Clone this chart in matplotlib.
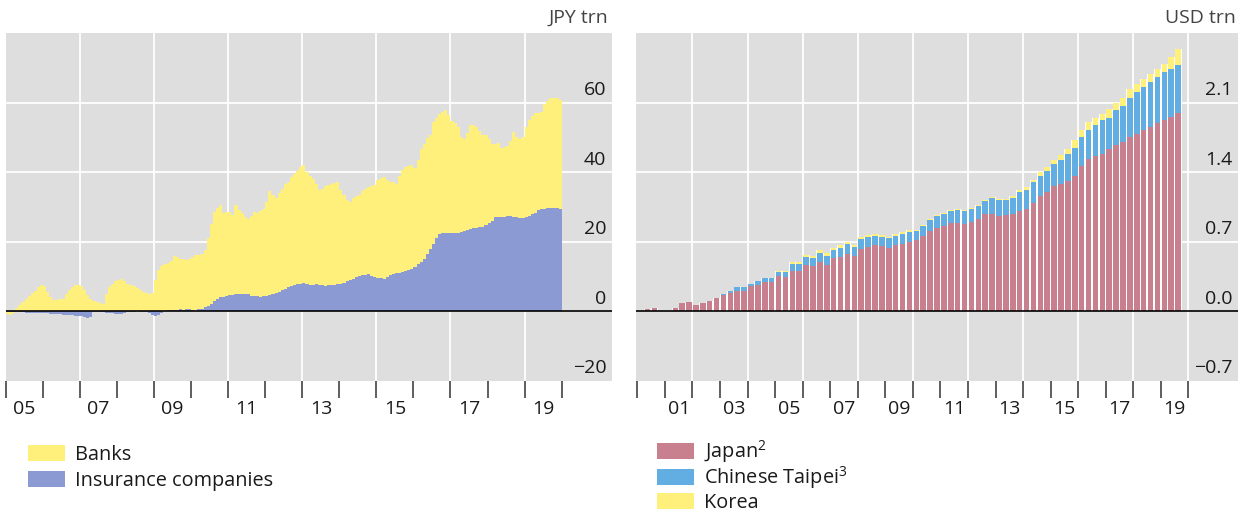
import numpy as np
import matplotlib
matplotlib.use('Agg')
import matplotlib.pyplot as plt
from matplotlib.patches import Rectangle

plt.rcParams['font.family'] = ['Open Sans', 'DejaVu Sans']
plt.rcParams['mathtext.default'] = 'regular'

# left panel: monthly, Jan 2005 - Dec 2019, JPY trn
left_start = 2005
banks = [
    -0.5, -0.8, -0.3, 0.9, 1.8, 2.8, 3.6, 4.4, 5.2, 6.0, 6.9, 7.5,
    7.2, 5.5, 4.2, 3.4, 3.3, 3.5, 3.7, 5.0, 6.2, 7.0, 7.6, 7.5,
    7.3, 6.2, 4.8, 3.6, 3.0, 2.7, 2.3, 2.0, 5.1, 7.0, 7.8, 8.6,
    9.0, 9.3, 8.6, 8.0, 7.6, 7.4, 6.6, 6.1, 5.6, 5.2, 5.0, 5.3,
    9.0, 11.8, 13.0, 13.4, 13.7, 14.2, 15.4, 15.1, 14.6, 14.5, 14.1, 14.4,
    15.3, 15.9, 15.7, 15.8, 16.4, 19.5, 22.8, 25.5, 26.3, 26.6, 24.1, 24.1,
    23.9, 23.0, 25.6, 24.1, 23.4, 22.3, 21.6, 23.0, 24.3, 24.1, 24.6, 25.2,
    27.1, 29.9, 28.6, 27.3, 28.4, 29.1, 30.0, 30.3, 31.1, 31.9, 32.5, 33.5,
    33.9, 32.3, 31.3, 30.4, 28.7, 27.2, 27.8, 28.6, 28.7, 29.1, 29.4, 29.4,
    27.0, 25.2, 23.4, 22.6, 23.3, 23.3, 23.3, 24.1, 24.6, 25.0, 25.7, 26.5,
    28.1, 28.8, 29.1, 27.9, 26.7, 26.5, 25.6, 27.7, 29.2, 29.9, 29.8, 29.8,
    28.6, 30.0, 32.4, 32.9, 33.2, 33.0, 35.0, 34.7, 34.5, 34.7, 35.2, 34.0,
    32.2, 31.8, 30.4, 27.1, 26.3, 27.8, 29.7, 29.7, 28.9, 27.6, 26.5, 26.0,
    24.3, 22.0, 21.2, 21.3, 20.0, 20.0, 20.1, 21.6, 24.3, 23.0, 22.8, 23.3,
    26.0, 27.6, 28.2, 28.6, 27.8, 27.9, 30.1, 30.9, 31.6, 31.7, 31.5, 31.3,
]
insurance = [
    -0.2, -0.3, -0.2, -0.2, -0.3, -0.3, -0.4, -0.4, -0.5, -0.5, -0.5, -0.6,
    -0.5, -0.6, -0.8, -0.8, -0.7, -0.8, -0.9, -1.0, -1.0, -1.1, -1.2, -1.3,
    -1.4, -1.7, -1.8, -1.5, -0.3, -0.2, -0.3, -0.2, -0.5, -0.4, -0.5, -0.8,
    -0.7, -0.8, -0.6, -0.2, -0.1, -0.1, 0.0, -0.1, -0.1, -0.2, -0.4, -1.0,
    -1.2, -0.9, -0.4, 0.2, 0.3, 0.4, 0.5, 0.5, 0.6, 0.5, 0.6, 0.6,
    0.4, 0.2, 0.6, 0.8, 1.2, 1.5, 2.2, 3.0, 3.5, 4.0, 4.2, 4.5,
    4.6, 4.8, 4.9, 4.9, 5.0, 4.9, 4.9, 4.5, 4.3, 4.3, 4.2, 4.3,
    4.4, 4.6, 4.9, 5.2, 5.6, 6.1, 6.5, 6.9, 7.4, 7.6, 7.9, 8.0,
    8.1, 7.9, 7.7, 7.6, 7.8, 7.6, 7.5, 7.4, 7.5, 7.5, 7.6, 7.8,
    8.0, 8.3, 8.6, 8.9, 9.3, 9.9, 10.2, 10.4, 10.6, 10.7, 10.3, 9.9,
    9.6, 9.5, 9.4, 9.9, 10.5, 10.7, 10.9, 11.1, 11.3, 11.6, 12.0, 12.3,
    12.7, 13.5, 14.3, 15.2, 16.5, 17.8, 19.5, 21.0, 22.3, 22.6, 22.6, 22.5,
    22.4, 22.4, 22.6, 22.9, 23.2, 23.5, 23.8, 24.0, 24.0, 24.2, 24.3, 24.8,
    25.3, 26.0, 27.0, 27.1, 27.0, 27.2, 27.3, 27.4, 27.2, 27.0, 26.8, 26.7,
    27.0, 27.4, 28.0, 28.4, 29.2, 29.3, 29.4, 29.6, 29.7, 29.6, 29.8, 29.5,
]

# right panel: quarterly, 2000 Q1 - 2019 Q3, USD trn
right_start = 2000
japan = [
    0.0, 0.02, 0.03, 0.0,   0.0, 0.03, 0.08, 0.09,   0.06, 0.08, 0.10, 0.13,
    0.16, 0.19, 0.21, 0.21,   0.26, 0.27, 0.30, 0.30,   0.36, 0.35, 0.41, 0.41,
    0.47, 0.46, 0.50, 0.47,   0.54, 0.55, 0.58, 0.56,   0.63, 0.65, 0.67, 0.66,
    0.64, 0.67, 0.68, 0.70,   0.72, 0.76, 0.81, 0.84,   0.86, 0.89, 0.89, 0.88,
    0.90, 0.93, 0.98, 0.98,   0.96, 0.97, 0.98, 1.01,   1.03, 1.09, 1.16, 1.20,
    1.26, 1.28, 1.31, 1.36,   1.46, 1.53, 1.56, 1.58,   1.63, 1.67, 1.70, 1.75,
    1.78, 1.82, 1.85, 1.89,   1.92, 1.96, 2.00,
]
taipei = [
    0.0, 0.0, 0.0, 0.0,   0.0, 0.0, 0.0, 0.0,   0.0, 0.0, 0.0, 0.0,
    0.01, 0.02, 0.04, 0.04,   0.02, 0.04, 0.04, 0.04,   0.04, 0.05, 0.07, 0.07,
    0.08, 0.08, 0.09, 0.09,   0.08, 0.09, 0.10, 0.09,   0.10, 0.10, 0.09, 0.09,
    0.10, 0.09, 0.10, 0.10,   0.09, 0.10, 0.11, 0.12,   0.12, 0.12, 0.13, 0.13,
    0.13, 0.13, 0.13, 0.16,   0.16, 0.15, 0.16, 0.19,   0.19, 0.21, 0.20, 0.21,
    0.22, 0.24, 0.27, 0.28,   0.29, 0.29, 0.31, 0.34,   0.32, 0.36, 0.37, 0.40,
    0.43, 0.44, 0.46, 0.47,   0.49, 0.48, 0.48,
]
korea = [
    0.0, 0.0, 0.0, 0.0,   0.0, 0.0, 0.0, 0.0,   0.0, 0.0, 0.0, 0.0,
    0.0, 0.0, 0.0, 0.0,   0.0, 0.0, 0.0, 0.0,   0.01, 0.01, 0.02, 0.02,
    0.02, 0.02, 0.03, 0.03,   0.02, 0.03, 0.02, 0.02,   0.02, 0.02, 0.02, 0.02,
    0.01, 0.02, 0.02, 0.02,   0.01, 0.01, 0.01, 0.01,   0.01, 0.01, 0.01, 0.01,
    0.01, 0.01, 0.01, 0.01,   0.01, 0.01, 0.02, 0.02,   0.03, 0.02, 0.04, 0.04,
    0.04, 0.05, 0.05, 0.08,   0.07, 0.08, 0.08, 0.07,   0.09, 0.07, 0.08, 0.09,
    0.08, 0.08, 0.08, 0.08,   0.08, 0.12, 0.16,
]

left_yticks = [-20, 0, 20, 40, 60]
left_ylabels = ['\u221220', '0', '20', '40', '60']
right_yticks = [-0.7, 0.0, 0.7, 1.4, 2.1]
right_ylabels = ['\u22120.7', '0.0', '0.7', '1.4', '2.1']

yellow = '#FFF07C'
blue_ins = '#8C9AD3'
pink = '#C8808F'
blue_tw = '#62AEE3'
bg = '#DEDEDE'
FS = 14


def stack_bars(ax, x, series, colors, slot, frac, gap_color):
    series = [np.asarray(s, dtype=float) for s in series]
    pos = np.zeros(len(x))
    neg = np.zeros(len(x))
    tot_pos = sum(np.clip(s, 0, None) for s in series)
    tot_neg = sum(np.clip(s, None, 0) for s in series)
    # light gaps between bars
    ax.bar(x, tot_pos, width=slot, align='edge', color=gap_color, lw=0, zorder=2)
    ax.bar(x, tot_neg, width=slot, align='edge', color=gap_color, lw=0, zorder=2)
    w = slot * frac
    for s, c in zip(series, colors):
        bottom = np.where(s >= 0, pos, neg)
        ax.bar(x + (slot - w) / 2, s, width=w, bottom=bottom, align='edge',
               color=c, lw=0, zorder=3)
        pos += np.clip(s, 0, None)
        neg += np.clip(s, None, 0)


def style_axis(ax, xlim, ylim, yticks, ylabels, year0, year1, grid_years, label_years):
    ax.set_facecolor(bg)
    ax.set_xlim(*xlim)
    ax.set_ylim(*ylim)
    for s in ax.spines.values():
        s.set_visible(False)
    for v in yticks[2:]:
        ax.axhline(v, color='white', lw=1.3, zorder=1)
    for g in grid_years:
        ax.axvline(g, color='white', lw=1.3, zorder=1)
    ax.axhline(0, color='black', lw=1.2, zorder=5)
    ax.set_yticks([])
    for v, lab in zip(yticks, ylabels):
        ax.annotate(lab, xy=(1, v), xycoords=('axes fraction', 'data'),
                    xytext=(-4, 5.5), textcoords='offset points',
                    ha='right', va='baseline', fontsize=FS, color='#1a1a1a')
    ax.set_xticks(np.arange(year0, year1 + 1))
    ax.set_xticklabels([])
    ax.set_xticks([y + 0.5 for y in label_years], minor=True)
    ax.set_xticklabels(['%02d' % (y % 100) for y in label_years], minor=True)
    ax.tick_params(axis='x', which='major', direction='out', length=12,
                   width=1.1, color='#333333', pad=2)
    ax.tick_params(axis='x', which='minor', length=0, pad=14,
                   labelsize=FS, labelcolor='#1a1a1a')


def legend_rows(fig, x, rows, W, H):
    # rows: (label, colour, centre y in pixels)
    for label, color, yc in rows:
        fig.add_artist(Rectangle((x / W, 1 - (yc + 8) / H), 37 / W, 16 / H,
                                 transform=fig.transFigure, color=color, lw=0))
        fig.text((x + 47) / W, 1 - (yc + 7) / H, label, ha='left', va='baseline',
                 fontsize=14.3, color='#1a1a1a')


fig = plt.figure(figsize=(12.44, 5.12), dpi=100)
W, H = 1244, 512
axl = fig.add_axes([6 / W, 1 - 381 / H, 606 / W, 348 / H])
axr = fig.add_axes([636 / W, 1 - 381 / H, 602 / W, 348 / H])

# left panel
xl = left_start + np.arange(len(banks)) / 12
stack_bars(axl, xl, [insurance, banks], [blue_ins, yellow], 1 / 12, 1.0, bg)
style_axis(axl, (2005.0, 2021.36), (-20, 80), left_yticks, left_ylabels,
           2005, 2020, range(2007, 2021, 2), range(2005, 2020, 2))
fig.text(608 / W, 1 - 18 / H, 'JPY trn', ha='right', va='center',
         fontsize=FS, color='#444444')

# right panel
xr = right_start + np.arange(len(japan)) / 4
stack_bars(axr, xr, [japan, taipei, korea], [pink, blue_tw, yellow], 0.25, 0.8, 'white')
style_axis(axr, (1999.95, 2021.8), (-0.7, 2.8), right_yticks, right_ylabels,
           2000, 2020, range(2002, 2021, 2), range(2001, 2020, 2))
fig.text(1236 / W, 1 - 18 / H, 'USD trn', ha='right', va='center',
         fontsize=FS, color='#444444')

# legends
legend_rows(fig, 28, [('Banks', yellow, 453), ('Insurance companies', blue_ins, 479)], W, H)
legend_rows(fig, 657, [('Japan$^{2}$', pink, 451), ('Chinese Taipei$^{3}$', blue_tw, 477),
                       ('Korea', yellow, 501)], W, H)

fig.savefig('out.png', dpi=100)
